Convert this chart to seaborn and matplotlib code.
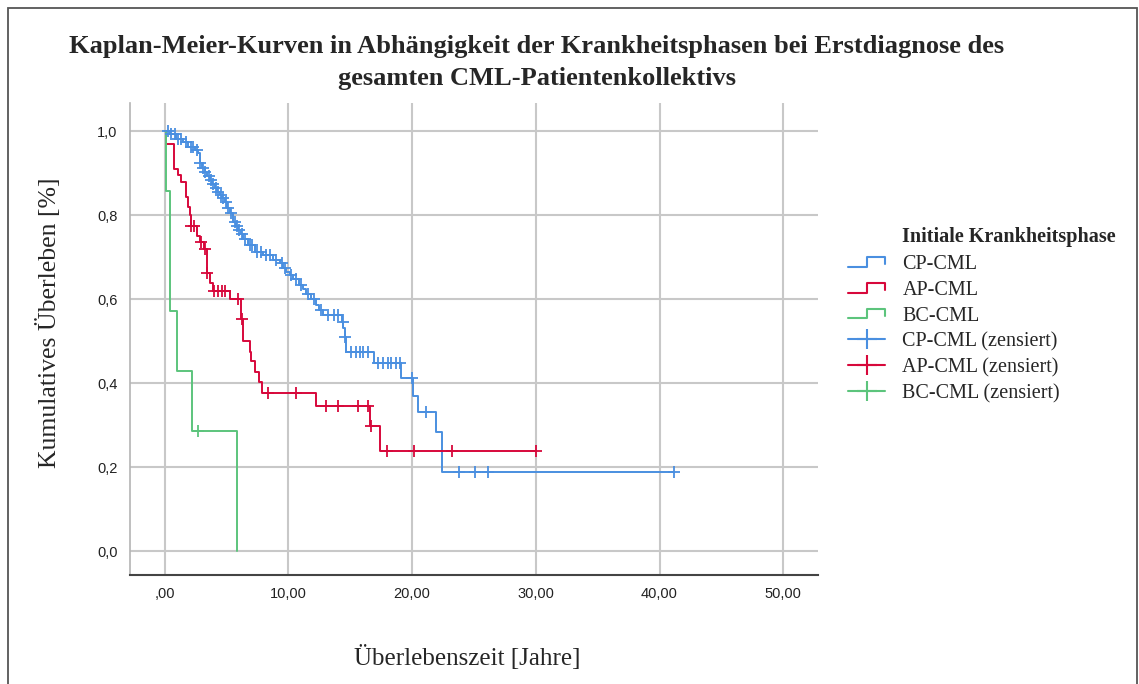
import numpy as np
import matplotlib
matplotlib.use("Agg")
import matplotlib.pyplot as plt
import seaborn as sns
from matplotlib.lines import Line2D
from matplotlib.patches import Rectangle
from matplotlib.legend_handler import HandlerBase

# Kaplan-Meier step data (time in years, survival after the event)
cp_times = [0, 0.4, 0.94, 1.48, 1.89, 2.43, 2.7, 2.83, 3.05, 3.23, 3.45, 3.64, 3.85, 4.04,
            4.25, 4.45, 4.65, 4.85, 5.05, 5.25, 5.52, 5.75, 5.93, 6.15, 6.33, 6.74, 7.28,
            7.95, 8.76, 9.3, 9.6, 9.84, 10.1, 10.37, 10.9, 11.2, 11.45, 11.86, 12.2, 12.5,
            12.8, 14.3, 14.45, 14.55, 14.65, 16.9, 19.13, 20.08, 20.5, 21.96, 22.45, 41.2]
cp_surv = [1.0, 0.994, 0.982, 0.975, 0.963, 0.955, 0.947, 0.923, 0.913, 0.903, 0.893, 0.883,
           0.873, 0.864, 0.856, 0.848, 0.840, 0.832, 0.818, 0.804, 0.784, 0.774, 0.764, 0.754,
           0.744, 0.729, 0.713, 0.705, 0.693, 0.685, 0.675, 0.665, 0.657, 0.649, 0.633, 0.623,
           0.612, 0.600, 0.586, 0.574, 0.562, 0.546, 0.530, 0.510, 0.475, 0.449, 0.411, 0.370,
           0.332, 0.284, 0.189, 0.189]
cp_censored = [0.25, 0.55, 0.8, 1.1, 1.3, 1.7, 2.1, 2.3, 2.6, 2.9, 3.1, 3.3, 3.55, 3.75, 3.95,
               4.15, 4.35, 4.55, 4.75, 4.95, 5.15, 5.4, 5.65, 5.85, 6.05, 6.25, 6.5, 6.9, 7.1,
               7.5, 7.8, 8.2, 8.5, 9.0, 9.45, 9.7, 10.2, 10.6, 11.0, 11.6, 12.05, 12.65, 13.2,
               13.7, 14.0, 14.4, 14.55, 15.1, 15.5, 15.76, 16.0, 16.4, 17.25, 17.65, 18.05,
               18.3, 18.7, 19.0, 20.0, 21.1, 23.8, 25.1, 26.1, 41.2]

ap_times = [0, 0.1, 0.73, 1.08, 1.35, 1.7, 1.9, 2.02, 2.12, 2.6, 2.9, 3.2, 3.4, 3.7, 3.9,
            5.25, 6.2, 6.35, 6.87, 7.0, 7.28, 7.6, 7.87, 12.26, 16.57, 17.38, 30.0]
ap_surv = [1.0, 0.97, 0.911, 0.895, 0.879, 0.843, 0.82, 0.80, 0.775, 0.75, 0.737, 0.72, 0.661,
           0.638, 0.62, 0.60, 0.552, 0.50, 0.475, 0.452, 0.427, 0.403, 0.377, 0.346, 0.298,
           0.238, 0.238]
ap_censored = [2.15, 2.4, 2.96, 3.3, 3.45, 4.0, 4.3, 4.6, 4.9, 5.9, 6.28, 8.36, 10.65, 13.07,
               14.0, 15.6, 16.4, 16.65, 17.95, 20.13, 23.2, 30.0]

bc_times = [0, 0.08, 0.4, 0.97, 2.18, 5.82]
bc_surv = [1.0, 0.857, 0.571, 0.429, 0.286, 0.0]
bc_censored = [2.7]

groups = ["CP-CML", "AP-CML", "BC-CML"]
colors = ["#4a8fe0", "#d7083b", "#5cc47c"]

xticks = [0, 10, 20, 30, 40, 50]
xtick_labels = [",00", "10,00", "20,00", "30,00", "40,00", "50,00"]
yticks = [0.0, 0.2, 0.4, 0.6, 0.8, 1.0]
ytick_labels = ["0,0", "0,2", "0,4", "0,6", "0,8", "1,0"]

title = ("Kaplan-Meier-Kurven in Abhängigkeit der Krankheitsphasen bei Erstdiagnose des\n"
         "gesamten CML-Patientenkollektivs")


def surv_at(times, surv, t):
    # value of the step curve at time t
    idx = np.searchsorted(times, t, side="right") - 1
    return np.asarray(surv)[idx]


class StepHandler(HandlerBase):
    def create_artists(self, legend, orig_handle, xdescent, ydescent, width, height,
                       fontsize, trans):
        xs = np.array([0, 0.5, 0.5, 1.0, 1.0]) * width - xdescent
        ys = np.array([0.15, 0.15, 0.85, 0.85, 0.35]) * height - ydescent
        line = Line2D(xs, ys, color=orig_handle.get_color(), lw=1.5)
        line.set_transform(trans)
        return [line]


sns.set_theme(style="white")
plt.rcParams["font.family"] = ["Liberation Serif", "DejaVu Serif"]

fig = plt.figure(figsize=(11.39, 6.84), dpi=100)
ax = fig.add_axes([0.1141, 0.1594, 0.604, 0.690])

curves = [(cp_times, cp_surv, cp_censored), (ap_times, ap_surv, ap_censored),
          (bc_times, bc_surv, bc_censored)]

for (t, s, cens), col in zip(curves, colors):
    sns.lineplot(x=t, y=s, drawstyle="steps-post", color=col, lw=1.4,
                 estimator=None, sort=False, ax=ax)
for (t, s, cens), col in zip(curves, colors):
    cy = surv_at(t, s, cens)
    ax.plot(cens, cy, linestyle="none", marker="+", markersize=8, markeredgewidth=1.3,
            color=col)

ax.set_xlim(-2.8, 52.8)
ax.set_ylim(-0.057, 1.067)
ax.set_xticks(xticks)
ax.set_xticklabels(xtick_labels, family="Liberation Sans", fontsize=10.5, color="#222222")
ax.set_yticks(yticks)
ax.set_yticklabels(ytick_labels, family="Liberation Sans", fontsize=10.5, color="#222222")
ax.tick_params(length=0, pad=9)
ax.grid(True, color="#c8c8c8", lw=1.5)
ax.set_axisbelow(True)
for side in ["top", "right"]:
    ax.spines[side].set_visible(False)
ax.spines["left"].set_color("#b4b4b4")
ax.spines["left"].set_linewidth(1.2)
ax.spines["bottom"].set_color("#444444")
ax.spines["bottom"].set_linewidth(1.5)

ax.set_xlabel("Überlebenszeit [Jahre]", fontsize=18)
ax.xaxis.set_label_coords(0.49, -0.148)
ax.set_ylabel("Kumulatives Überleben [%]", fontsize=18.5)
ax.yaxis.set_label_coords(-0.10, 0.535)

fig.text(0.4715, 1 - 62 / 684, title, ha="center", va="center", fontsize=19,
         fontweight="bold", linespacing=1.5)

# legend
fig.text(902 / 1139, 1 - 237 / 684, "Initiale Krankheitsphase", ha="left", va="center",
         fontsize=14.5, fontweight="bold")
line_handles = [Line2D([], [], color=c, lw=1.5) for c in colors]
cens_handles = [Line2D([], [], color=c, lw=1.5, marker="+", markersize=14,
                       markeredgewidth=1.5) for c in colors]
labels = groups + [g + " (zensiert)" for g in groups]
handler_map = {h: StepHandler() for h in line_handles}
fig.legend(line_handles + cens_handles, labels, handler_map=handler_map,
           loc="upper left", bbox_to_anchor=(848 / 1139, 1 - 255 / 684),
           frameon=False, fontsize=14.5, borderpad=0, borderaxespad=0,
           handlelength=1.85, handletextpad=0.85, labelspacing=0.33)

# outer frame of the screenshot
fig.add_artist(Rectangle((8 / 1139, -0.05), 1 - 10 / 1139, 1.05 - 8 / 684,
                         transform=fig.transFigure, fill=False, edgecolor="#555555",
                         lw=1.3))

fig.savefig("out.png", dpi=100)
